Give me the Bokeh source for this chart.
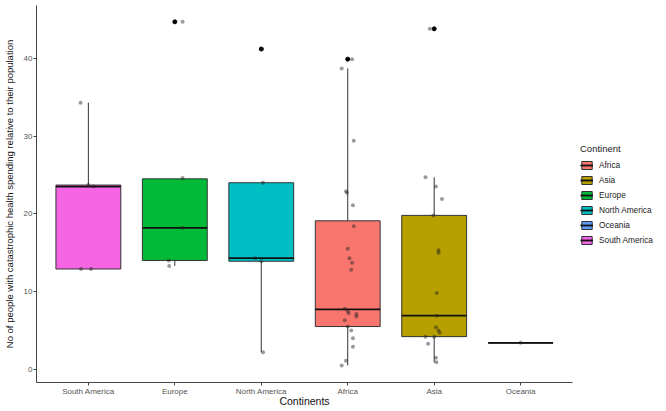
from bokeh.plotting import figure
from bokeh.models import ColumnDataSource, Range1d, FixedTicker, Legend, LegendItem
from bokeh.embed import file_html
from bokeh.resources import INLINE

# ---- data ----
categories = ["South America", "Europe", "North America", "Africa", "Asia", "Oceania"]
box_colors = ["#F564E3", "#00BA38", "#00BFC4", "#F8766D", "#B79F00", "#619CFF"]
legend_order = ["Africa", "Asia", "Europe", "North America", "Oceania", "South America"]

q1 = [12.9, 14.0, 13.9, 5.5, 4.2, 3.4]
median = [23.5, 18.2, 14.3, 7.7, 6.9, 3.4]
q3 = [23.7, 24.5, 24.0, 19.1, 19.8, 3.4]
whisker_low = [12.9, 13.3, 2.2, 0.5, 0.9, 3.4]
whisker_high = [34.3, 24.5, 24.0, 38.7, 24.7, 3.4]

outlier_cat = ["Europe", "North America", "Africa", "Asia"]
outlier_val = [44.7, 41.2, 39.9, 43.8]

points_south_america = [34.3, 23.7, 23.5, 12.9, 12.9]
jitter_south_america = [-0.09, 0.0, 0.06, -0.085, 0.03]
points_europe = [44.7, 24.6, 18.2, 14.0, 13.3]
jitter_europe = [0.09, 0.09, 0.09, -0.07, -0.065]
points_north_america = [41.2, 24.0, 14.3, 13.9, 2.2]
jitter_north_america = [0.01, 0.02, -0.07, 0.0, 0.02]
points_africa = [39.9, 38.7, 29.4, 22.9, 22.7, 21.1, 18.4, 15.5, 14.3, 13.7, 12.8,
                 7.8, 7.5, 7.2, 7.1, 6.8, 6.3, 5.5, 5.0, 4.0, 2.9, 1.1, 0.5]
jitter_africa = [0.05, -0.07, 0.07, -0.02, -0.01, 0.06, 0.07, 0.0, 0.02, 0.05, 0.04,
                 -0.035, 0.0, 0.01, 0.1, 0.1, -0.035, 0.0, 0.04, 0.06, 0.06, -0.02, -0.07]
points_asia = [43.8, 24.7, 23.5, 21.9, 19.8, 15.3, 15.0, 9.8, 6.9, 5.4, 5.0, 4.7,
               4.2, 4.2, 3.3, 1.5, 0.9]
jitter_asia = [-0.05, -0.1, 0.02, 0.09, -0.01, 0.05, 0.05, 0.03, 0.03, 0.02, 0.05, 0.065,
               -0.1, 0.0, -0.07, 0.02, 0.025]
points_oceania = [3.4]
jitter_oceania = [0.0]

point_values = [points_south_america, points_europe, points_north_america,
                points_africa, points_asia, points_oceania]
point_jitter = [jitter_south_america, jitter_europe, jitter_north_america,
                jitter_africa, jitter_asia, jitter_oceania]

# ---- sources ----
pos = {c: i + 1 for i, c in enumerate(categories)}
box_src = ColumnDataSource(dict(
    x=[pos[c] for c in categories], q1=q1, q3=q3, med=median,
    lo=whisker_low, hi=whisker_high, color=box_colors,
    x0=[pos[c] - 0.375 for c in categories], x1=[pos[c] + 0.375 for c in categories],
))
px, py = [], []
for c, vals, jit in zip(categories, point_values, point_jitter):
    for v, j in zip(vals, jit):
        px.append(pos[c] + j)
        py.append(v)
pt_src = ColumnDataSource(dict(x=px, y=py))
out_src = ColumnDataSource(dict(x=[pos[c] for c in outlier_cat], y=outlier_val))

FONT = "Liberation Sans"
p = figure(frame_width=536, frame_height=377, x_range=Range1d(0.4, 6.6), y_range=Range1d(-1.7, 46.8),
           output_backend="svg", toolbar_location=None,
           min_border_left=0, min_border_right=0, min_border_top=5, min_border_bottom=0)
p.outline_line_color = None
p.grid.visible = False

# whiskers
p.segment(x0="x", y0="q3", x1="x", y1="hi", source=box_src, line_color="#333333", line_width=1)
p.segment(x0="x", y0="lo", x1="x", y1="q1", source=box_src, line_color="#333333", line_width=1)
# boxes
r_box = p.vbar(x="x", width=0.75, top="q3", bottom="q1", source=box_src,
               fill_color="color", line_color="#333333", line_width=1)
# medians
r_med = p.segment(x0="x0", y0="med", x1="x1", y1="med", source=box_src,
                  line_color="#111111", line_width=1.8)
# outliers
p.scatter(x="x", y="y", source=out_src, size=4, color="black")
# jittered points
p.scatter(x="x", y="y", source=pt_src, size=4, fill_color="#222222", line_color=None, fill_alpha=0.45)

# axes
p.xaxis.ticker = FixedTicker(ticks=[pos[c] for c in categories])
p.xaxis.major_label_overrides = {pos[c]: c for c in categories}
p.yaxis.ticker = FixedTicker(ticks=[0, 10, 20, 30, 40])
for ax in (p.xaxis, p.yaxis):
    ax.minor_tick_line_color = None
    ax.axis_line_color = "#444444"
    ax.major_tick_line_color = "#444444"
    ax.major_tick_out = 3
    ax.major_tick_in = 0
    ax.major_label_standoff = 1
    ax.major_label_text_font = FONT
    ax.major_label_text_font_size = "8px"
    ax.major_label_text_color = "#555555"
    ax.axis_label_text_font = FONT
    ax.axis_label_text_font_style = "normal"
    ax.axis_label_text_color = "#111111"
p.xaxis.major_label_standoff = 1
p.yaxis.axis_label = "No of people with catastrophic health spending relative to their population"
p.yaxis.axis_label_text_font_size = "9.5px"
p.yaxis.axis_label_standoff = 6
p.xaxis.axis_label = "Continents"
p.xaxis.axis_label_text_font_size = "10.5px"
p.xaxis.axis_label_standoff = -4

# legend
items = []
for name in legend_order:
    i = categories.index(name)
    items.append(LegendItem(label=name, renderers=[r_box, r_med], index=i))
legend = Legend(items=items, location="center_left", title="Continent",
                title_text_font=FONT, title_text_font_size="9.5px", title_text_font_style="normal",
                title_text_color="#222222", title_standoff=6,
                label_text_font=FONT, label_text_font_size="8.3px", label_text_color="#222222",
                glyph_width=13, glyph_height=10, label_height=10, label_standoff=6,
                spacing=5, padding=2, margin=8,
                border_line_color=None, background_fill_alpha=0)
p.add_layout(legend, "right")

open("out.html", "w").write(file_html(p, INLINE))
